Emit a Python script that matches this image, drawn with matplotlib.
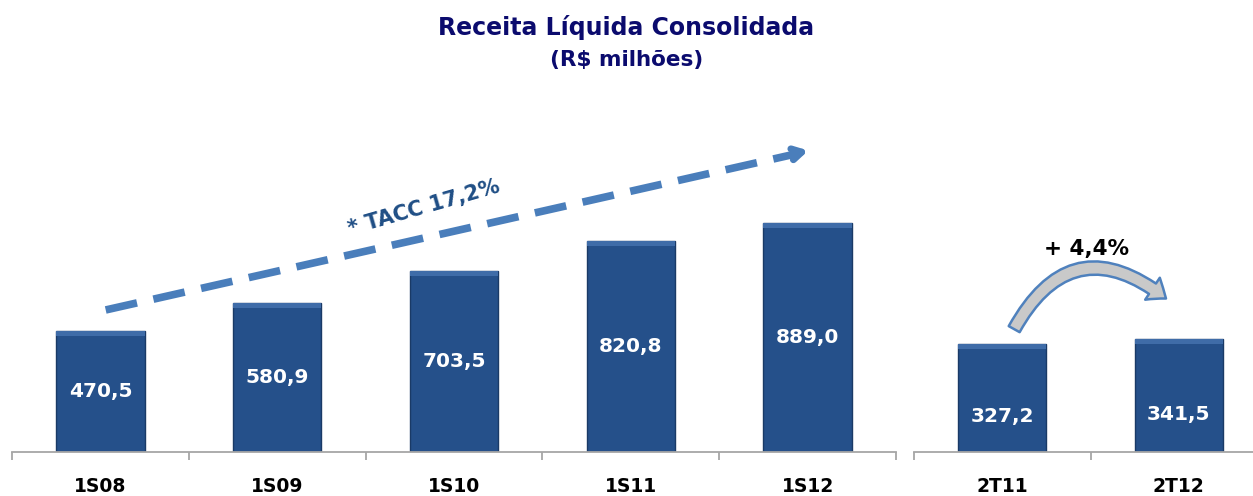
import matplotlib.pyplot as plt
from matplotlib.patches import FancyArrowPatch
import numpy as np

# dados
periodos_sem = ['1S08', '1S09', '1S10', '1S11', '1S12']
receita_sem = [470.5, 580.9, 703.5, 820.8, 889.0]
periodos_tri = ['2T11', '2T12']
receita_tri = [327.2, 341.5]
rotulos_sem = ['470,5', '580,9', '703,5', '820,8', '889,0']
rotulos_tri = ['327,2', '341,5']

cor_barra = '#25508A'
cor_borda = '#1A3A66'
cor_topo = '#3F6CA8'
cor_eixo = '#A6A6A6'

fig = plt.figure(figsize=(12.53, 4.96), dpi=100)
ax1 = fig.add_axes([12 / 1253, 44 / 496, 884 / 1253, 352 / 496])
ax2 = fig.add_axes([914 / 1253, 44 / 496, 353 / 1253, 352 / 496])


def estilo(ax, nomes, ymax):
    x = np.arange(len(nomes))
    ax.set_xlim(-0.5, len(nomes) - 0.5)
    ax.set_ylim(0, ymax)
    for s in ['top', 'right', 'left']:
        ax.spines[s].set_visible(False)
    ax.spines['bottom'].set_color(cor_eixo)
    ax.spines['bottom'].set_linewidth(1.3)
    ax.set_yticks([])
    ax.set_xticks(x)
    ax.set_xticklabels(nomes, fontsize=13.5, fontweight='bold', color='black')
    ax.tick_params(axis='x', which='major', length=0, pad=18)
    ax.set_xticks(np.arange(len(nomes) + 1) - 0.5, minor=True)
    ax.tick_params(axis='x', which='minor', length=6, width=1.3, color=cor_eixo)
    ax.patch.set_alpha(0)
    return x


x1 = estilo(ax1, periodos_sem, 1368)
x2 = estilo(ax2, periodos_tri, 1067)


def barras(ax, x, vals, escala):
    ax.bar(x, vals, width=0.5, color=cor_barra, edgecolor=cor_borda, linewidth=1)
    # brilho no topo da barra (efeito chanfrado)
    faixa = 5 / escala
    ax.bar(x, [faixa] * len(vals), bottom=[v - faixa for v in vals], width=0.5,
           color=cor_topo, linewidth=0)


barras(ax1, x1, receita_sem, 0.2572)
barras(ax2, x2, receita_tri, 0.330)

for xi, v, r in zip(x1, receita_sem, rotulos_sem):
    ax1.text(xi, v / 2, r, ha='center', va='center', color='white',
             fontsize=14.5, fontweight='bold')
for xi, v, r in zip(x2, receita_tri, rotulos_tri):
    ax2.text(xi, v / 3, r, ha='center', va='center', color='white',
             fontsize=14.5, fontweight='bold')

# titulo
fig.text(0.5, 1 - 28 / 496, 'Receita Líquida Consolidada', ha='center', va='center',
         fontsize=17, fontweight='bold', color='#0B0B6E')
fig.text(0.5, 1 - 60 / 496, '(R$ milhões)', ha='center', va='center',
         fontsize=15.5, fontweight='bold', color='#0B0B6E')

# seta tracejada TACC
cor_seta = '#4A7EBB'
ax1.plot([0.03, 3.93], [552, 1158], color=cor_seta, lw=5.5,
         linestyle=(0, (4.2, 2.2)), solid_capstyle='butt', dash_capstyle='butt')
ax1.annotate('', xy=(4.02, 1174), xytext=(3.9, 1155),
             arrowprops=dict(arrowstyle='->,head_length=0.7,head_width=0.4',
                             color=cor_seta, lw=5))
ax1.text(1.83, 950, '* TACC 17,2%', rotation=16, ha='center', va='center',
         fontsize=15, fontweight='bold', color='#1F4E85')

# seta curva
curva = FancyArrowPatch((0.06, 365), (0.94, 460),
                        connectionstyle='arc3,rad=-0.6',
                        arrowstyle='simple,head_width=1.9,head_length=1.2,tail_width=0.9',
                        mutation_scale=10, facecolor='#C9C9C9', edgecolor='#4F81BD',
                        linewidth=1.8, clip_on=False)
ax2.add_patch(curva)
ax2.text(0.48, 615, '+ 4,4%', ha='center', va='center', fontsize=15.5,
         fontweight='bold', color='black')

fig.savefig('out.png', dpi=100)
